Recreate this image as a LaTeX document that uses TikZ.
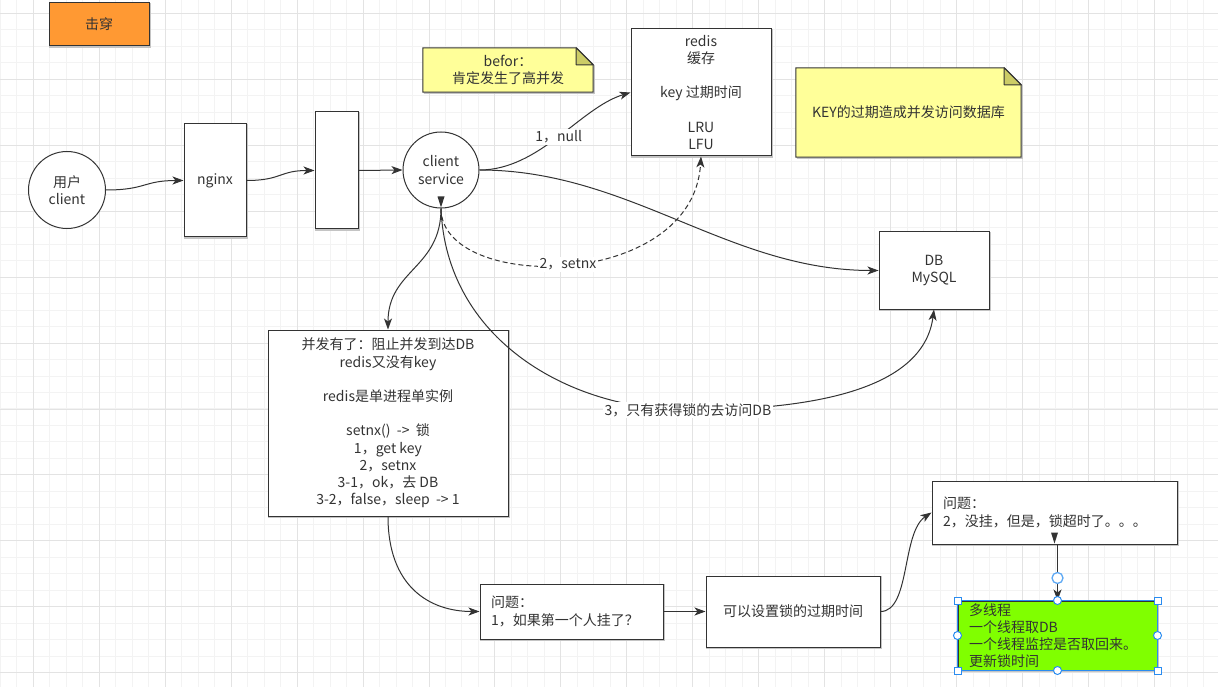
\documentclass[tikz,border=0pt]{standalone}
\usepackage{fontspec}
\setmainfont{Noto Sans CJK SC}
\usetikzlibrary{arrows.meta}
\pgfdeclarelayer{gridlayer}
\pgfdeclarelayer{bglayer}
\pgfsetlayers{gridlayer,bglayer,main}
\definecolor{txt}{HTML}{333333}
\definecolor{ln}{HTML}{333333}
\definecolor{gridminor}{HTML}{F3F3F3}
\definecolor{gridmajor}{HTML}{E3E3E3}
\definecolor{orangefill}{HTML}{FF9933}
\definecolor{notefill}{HTML}{FFFF99}
\definecolor{notefold}{HTML}{CCCC66}
\definecolor{greenfill}{HTML}{80FF00}
\definecolor{handle}{HTML}{2A8CF0}
\definecolor{shadowc}{HTML}{C4C4C4}
\tikzset{
  every node/.style={text=txt, font=\fontsize{14}{17.2}\selectfont},
  box/.style={draw=ln, line width=1pt, fill=white, inner sep=0pt, align=center,
    preaction={draw=shadowc, line width=1.2pt, transform canvas={xshift=1pt,yshift=-1pt}}},
  lbox/.style={box, align=left, inner xsep=11pt, inner ysep=0pt},
  circ/.style={draw=ln, line width=1pt, fill=white, circle, inner sep=0pt, align=center},
  notetext/.style={inner sep=0pt, align=center},
  notebody/.style={draw=ln, line width=1pt, fill=notefill},
  notefoldst/.style={draw=ln, line width=1pt, fill=notefold, line join=round},
  arr/.style={draw=ln, line width=1pt, -{Stealth[length=11pt,width=8pt,inset=3pt]}},
  lbl/.style={fill=white, inner sep=1.5pt},
  hsq/.style={draw=handle, fill=white, line width=1pt, minimum size=7pt, inner sep=0pt},
  hci/.style={draw=handle, fill=white, line width=1pt, circle, minimum size=8pt, inner sep=0pt},
}
\begin{document}
\begin{tikzpicture}[x=1pt,y=-1pt]
\useasboundingbox (0,0) rectangle (1218,687);
\begin{pgfonlayer}{gridlayer}
  \fill[white] (0,0) rectangle (1218,687);
  \foreach \i in {0,...,74} {
    \draw[gridminor, line width=1pt] ({0.32+\i*16.4875},0) -- ({0.32+\i*16.4875},687);
  }
  \foreach \j in {0,...,42} {
    \draw[gridminor, line width=1pt] (0,{-3.19+\j*16.4875}) -- (1218,{-3.19+\j*16.4875});
  }
  \foreach \i in {0,...,18} {
    \draw[gridmajor, line width=1pt] ({33.3+\i*65.95},0) -- ({33.3+\i*65.95},687);
  }
  \foreach \j in {0,...,10} {
    \draw[gridmajor, line width=1pt] (0,{13.3+\j*65.95}) -- (1218,{13.3+\j*65.95});
  }
\end{pgfonlayer}

% nodes
\node[box, fill=orangefill, minimum width=100, minimum height=43] (chuan) at (99,24.5) {击穿};
\node[circ, minimum size=77] (user) at (67,190) {用户\\client};
\node[box, minimum width=62, minimum height=113] (nginx) at (215,180.5) {nginx};
\node[box, minimum width=43, minimum height=117] (gate) at (336.5,170.5) {};
\node[circ, minimum size=76] (cs) at (441,170) {client\\service};
\node[box, minimum width=140, minimum height=127] (redis) at (701,92.5)
  {redis\\缓存\\[17.2pt]key 过期时间\\[17.2pt]LRU\\LFU};
\node[notetext, minimum width=170, minimum height=44] (n1) at (508,70) {befor：\\肯定发生了高并发};
\node[notetext, minimum width=225, minimum height=89] (n2) at (908.5,112.5) {KEY的过期造成并发访问数据库};
\node[box, minimum width=110, minimum height=77] (db) at (934,270.5) {DB\\MySQL};
\node[box, minimum width=240, minimum height=186] (big) at (388,423)
  {并发有了：阻止并发到达DB\\redis又没有key\\[17.2pt]redis是单进程单实例\\[17.2pt]setnx()\ \ ->\ \ 锁\\1，get key\\2，setnx\\3-1，ok，去 DB\\3-2，false，sleep\ \ -> 1};
\node[lbox, minimum width=183, text width=161, minimum height=55] (q1) at (571.5,611.5) {问题：\\1，如果第一个人挂了？};
\node[box, minimum width=174, minimum height=71] (fix) at (793,611.5) {可以设置锁的过期时间};
\node[lbox, minimum width=245, text width=223, minimum height=63] (q2) at (1054.5,512.5) {问题：\\2，没挂，但是，锁超时了。。。};
\node[lbox, fill=greenfill, minimum width=199, text width=177, minimum height=69, preaction={}] (multi) at (1057.5,635.5)
  {多线程\\一个线程取DB\\一个线程监控是否取回来。\\更新锁时间};

% notes
\begin{pgfonlayer}{bglayer}
  \foreach \n in {n1,n2} {
    \draw[draw=shadowc, line width=1.2pt, transform canvas={xshift=1pt,yshift=-1pt}]
      ([xshift=-17]\n.north east) -- ([yshift=-17]\n.north east) -- (\n.south east) -- (\n.south west);
    \path[notebody] (\n.north west) -- ([xshift=-17]\n.north east) -- ([yshift=-17]\n.north east)
      -- (\n.south east) -- (\n.south west) -- cycle;
    \path[notefoldst] ([xshift=-17]\n.north east) -- ([yshift=-17]\n.north east)
      -- ([xshift=-17,yshift=-17]\n.north east) -- cycle;
  }
\end{pgfonlayer}

% connectors
\draw[arr] (user.east) .. controls +(40,0) and +(-40,0) .. (nginx.west);
\draw[arr] (nginx.east) .. controls +(35,0) and +(-35,0) .. (gate.west);
\draw[arr] (gate.east) -- (cs.west);
\draw[arr] (cs.east) .. controls +(60,0) and +(-50,15) .. node[lbl, pos=0.5] (l1) {1，null} (redis.west);
\draw[arr] (cs.east) .. controls +(150,0) and +(-150,0) .. (db.west);
\draw[arr, dashed, dash pattern=on 5pt off 3pt] (cs.south) .. controls +(0,84) and +(-8,135) .. node[lbl, pos=0.5] (l2) {2，setnx} (redis.south);
\draw[arr] (cs.south) .. controls +(0,60) and +(0,-60) .. (big.north);
\coordinate (c3) at (688,410);
\draw[arr] (cs.south) .. controls +(5,130) and +(-120,0) .. (c3)
  .. controls +(140,0) and +(-10,75) .. (db.south);
\node[lbl] (l3) at (c3) {3，只有获得锁的去访问DB};
\draw[arr] (big.south) .. controls +(0,70) and +(-50,0) .. (q1.west);
\draw[arr] (q1.east) -- (fix.west);
\draw[arr] (fix.east) .. controls +(30,0) and +(-30,20) .. (q2.west);
\draw[arr] (q2.south -| multi.north) -- (multi.north);

% start markers
\fill[ln] (cs.south) ++(0,-1) -- ++(-3.5,-11) -- ++(7,0) -- cycle;
\fill[ln] (q2.south) ++(0,-1) -- ++(-3.5,-11) -- ++(7,0) -- cycle;

% selection handles
\draw[draw=handle, line width=0.8pt] (multi.north west) rectangle (multi.south east);
\node[hsq] (h1) at (multi.north west) {};
\node[hsq] (h2) at (multi.north east) {};
\node[hsq] (h3) at (multi.south west) {};
\node[hsq] (h4) at (multi.south east) {};
\node[hci] (h5) at (multi.north) {};
\node[hci] (h6) at (multi.south) {};
\node[hci] (h7) at (multi.west) {};
\node[hci] (h8) at (multi.east) {};
\node[hci, minimum size=11pt, line width=1.3pt, draw=handle!75] (h9) at (1057.5,578) {};
\end{tikzpicture}
\end{document}
